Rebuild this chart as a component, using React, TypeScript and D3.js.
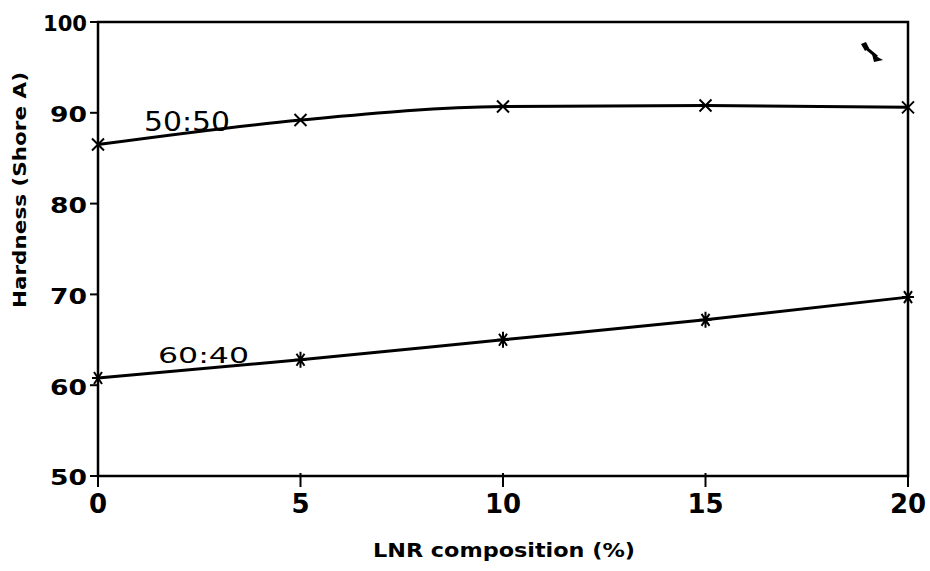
import React from "react";
import * as d3 from "d3";

const xTicks = [0, 5, 10, 15, 20];
const yTicks = [50, 60, 70, 80, 90, 100];
const lnr = [0, 5, 10, 15, 20];
const hard5050 = [86.5, 89.2, 90.7, 90.8, 90.6];
const hard6040 = [60.8, 62.8, 65.0, 67.2, 69.7];

const W = 930, H = 571;
const L = 98, R = 908, T = 22, B = 476;

export default function App() {
  const x = d3.scaleLinear().domain([0, 20]).range([L, R]);
  const y = d3.scaleLinear().domain([50, 100]).range([B, T]);
  const pts = (vals: number[]) => lnr.map((v, i) => [x(v), y(vals[i])] as [number, number]);
  const line = d3.line().curve(d3.curveMonotoneX);
  const font = "'DejaVu Sans', Verdana, sans-serif";
  const p1 = pts(hard5050);
  const p2 = pts(hard6040);
  return (
    <div style={{ position: "absolute", left: 0, top: 0 }}>
      <svg width={W} height={H} style={{ display: "block", background: "#fff" }}>
        <rect x={L} y={T} width={R - L} height={B - T} fill="none" stroke="#000" strokeWidth={2.5} />
        {yTicks.map((t) => (
          <g key={t}>
            <line x1={L - 8} x2={L} y1={y(t)} y2={y(t)} stroke="#000" strokeWidth={2} />
            <text x={L - 11} y={y(t)} dy="0.45em" textAnchor="end" fontFamily={font} fontWeight="bold" fontSize={21}
              textLength={String(t).length === 3 ? 44 : 37} lengthAdjust="spacingAndGlyphs">{t}</text>
          </g>
        ))}
        {xTicks.map((t) => (
          <g key={t}>
            <line x1={x(t)} x2={x(t)} y1={B - 3} y2={B + 11} stroke="#000" strokeWidth={2} />
            <text x={x(t)} y={B + 37} textAnchor="middle" fontFamily={font} fontWeight="bold" fontSize={26}>{t}</text>
          </g>
        ))}
        <text transform={`translate(26,190) rotate(-90)`} textAnchor="middle" fontFamily={font} fontWeight="bold" fontSize={18}
          textLength={236} lengthAdjust="spacingAndGlyphs">Hardness (Shore A)</text>
        <text x={504} y={557} textAnchor="middle" fontFamily={font} fontWeight="bold" fontSize={20}
          textLength={262} lengthAdjust="spacingAndGlyphs">LNR composition (%)</text>

        <path d={line(p1) || ""} fill="none" stroke="#000" strokeWidth={3} />
        <path d={line(p2) || ""} fill="none" stroke="#000" strokeWidth={3} />
        {p1.map(([px, py], i) => (
          <path key={i} d={`M${px - 6},${py - 6}L${px + 6},${py + 6}M${px - 6},${py + 6}L${px + 6},${py - 6}`} stroke="#000" strokeWidth={2} />
        ))}
        {p2.map(([px, py], i) => (
          <path key={i} d={`M${px - 6},${py}L${px + 6},${py}M${px - 4},${py - 6}L${px + 4},${py + 6}M${px - 4},${py + 6}L${px + 4},${py - 6}M${px},${py - 8}L${px},${py + 8}`} stroke="#000" strokeWidth={2} />
        ))}
        <text x={144} y={131} fontFamily={font} fontSize={26} textLength={86} lengthAdjust="spacingAndGlyphs">50:50</text>
        <text x={158} y={363} fontFamily={font} fontSize={21} textLength={91} lengthAdjust="spacingAndGlyphs">60:40</text>
        <path d="M861,44 L866,42 L869,48 L865,51 Z" fill="#000" />
        <path d="M865,47 L877,57" stroke="#000" strokeWidth={3} />
        <path d="M872,54 L883,60 L874,62 Z" fill="#000" />
      </svg>
    </div>
  );
}
